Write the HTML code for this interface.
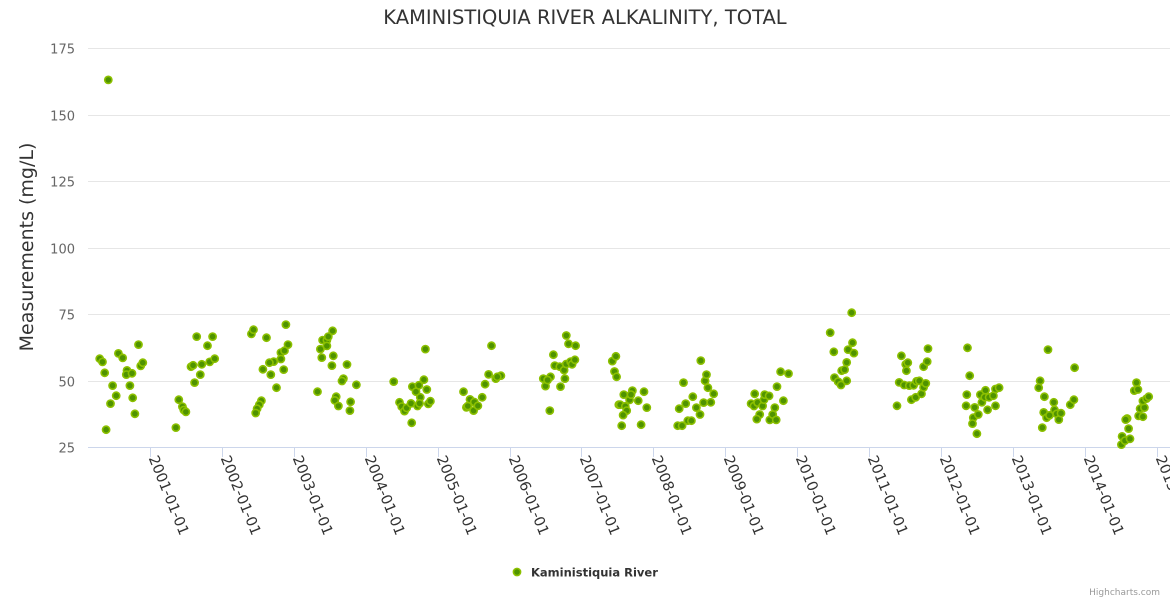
<!DOCTYPE html>
<html><head><meta charset="utf-8">
<style>
html,body{margin:0;padding:0;background:#fff;}
svg{display:block;font-family:"DejaVu Sans","Liberation Sans",sans-serif;}
</style></head>
<body>
<svg id="chart" width="1170" height="600" viewBox="0 0 1170 600" xmlns="http://www.w3.org/2000/svg">
<text x="585" y="24" text-anchor="middle" font-size="19.5" fill="#333">KAMINISTIQUIA RIVER ALKALINITY, TOTAL</text>
<text transform="translate(33,247) rotate(-90)" text-anchor="middle" font-size="19" fill="#333">Measurements (mg/L)</text>
<g id="grid"></g><g id="xaxis"></g><g id="points"></g>
<g>
<circle cx="517" cy="572" r="3.6" fill="#4f9300" stroke="#8cc000" stroke-width="1.6"/>
<text x="531" y="576.5" font-size="11.5" font-weight="bold" fill="#333">Kaministiquia River</text>
</g>
<text x="1160" y="595" text-anchor="end" font-size="9" fill="#999">Highcharts.com</text>
</svg>
<script>
const yTicks=[25,50,75,100,125,150,175];
const xTickYears=[2001,2002,2003,2004,2005,2006,2007,2008,2009,2010,2011,2012,2013,2014,2015];
const sampleYears=[2000.30,2000.34,2000.37,2000.48,2000.53,2000.45,2000.39,2000.56,2000.62,2000.68,2000.67,2000.75,2000.72,2000.76,2000.79,2000.84,2000.87,2000.90,2000.42,
2001.40,2001.45,2001.47,2001.50,2001.36,2001.62,2001.57,2001.60,2001.70,2001.72,2001.65,2001.80,2001.83,2001.87,2001.90,
2002.41,2002.44,2002.62,2002.89,2002.92,2002.82,2002.87,2002.82,2002.86,2002.72,2002.66,2002.57,2002.68,2002.76,2002.55,2002.52,2002.49,2002.47,
2003.33,2003.37,2003.39,2003.40,2003.46,2003.46,2003.48,2003.54,2003.55,2003.53,2003.74,2003.69,2003.67,2003.87,2003.59,2003.57,2003.62,2003.79,2003.78,
2004.39,2004.47,2004.50,2004.54,2004.57,2004.63,2004.64,2004.65,2004.70,2004.74,2004.76,2004.72,2004.75,2004.81,2004.85,2004.87,2004.90,2004.83,
2005.36,2005.45,2005.51,2005.40,2005.42,2005.50,2005.56,2005.62,2005.66,2005.71,2005.75,2005.81,2005.88,2005.83,
2006.47,2006.50,2006.57,2006.53,2006.56,2006.61,2006.63,2006.70,2006.71,2006.76,2006.77,2006.79,2006.82,2006.79,2006.85,2006.87,2006.91,2006.92,
2007.43,2007.48,2007.46,2007.49,2007.52,2007.54,2007.59,2007.61,2007.63,2007.58,2007.67,2007.71,2007.69,2007.79,2007.87,2007.91,2007.56,2007.83,
2008.34,2008.40,2008.48,2008.53,2008.36,2008.45,2008.55,2008.60,2008.65,2008.66,2008.70,2008.72,2008.74,2008.76,2008.80,2008.84,2008.42,
2009.36,2009.40,2009.41,2009.45,2009.48,2009.44,2009.52,2009.54,2009.55,2009.61,2009.62,2009.66,2009.69,2009.71,2009.72,2009.77,2009.81,2009.88,
2010.46,2010.51,2010.52,2010.57,2010.61,2010.62,2010.66,2010.69,2010.69,2010.71,2010.77,2010.79,2010.76,
2011.45,2011.51,2011.52,2011.54,2011.42,2011.49,2011.56,2011.62,2011.66,2011.39,2011.59,2011.65,2011.70,2011.73,2011.76,2011.79,2011.76,2011.81,2011.82,
2012.37,2012.40,2012.36,2012.35,2012.47,2012.45,2012.44,2012.50,2012.52,2012.55,2012.57,2012.62,2012.61,2012.67,2012.65,2012.73,2012.76,2012.81,2012.76,
2013.38,2013.36,2013.44,2013.49,2013.43,2013.47,2013.51,2013.57,2013.58,2013.61,2013.64,2013.67,2013.41,2013.80,2013.85,2013.86,
2014.52,2014.51,2014.56,2014.63,2014.61,2014.59,2014.57,2014.69,2014.72,2014.74,2014.77,2014.75,2014.81,2014.83,2014.81,2014.86,2014.89];
const sampleValues=[58.2,57.0,52.9,48.1,44.3,41.3,31.5,60.2,58.5,53.8,52.2,52.7,48.1,43.5,37.5,63.5,55.5,56.7,163,
42.8,40.2,38.9,38.2,32.3,49.2,55.2,55.7,52.2,56.1,66.5,63.1,57.0,66.5,58.2,
67.5,69.1,66.1,71.0,63.5,60.5,61.2,58.1,54.1,57.1,56.7,54.2,52.2,47.3,42.4,40.9,39.4,37.8,
45.8,61.8,58.6,65.2,65.2,63.0,66.5,68.7,59.3,55.6,56.0,50.7,49.8,48.4,43.9,42.5,40.4,42.0,38.7,
49.6,41.8,40.2,38.5,39.7,41.4,34.1,47.7,45.8,48.2,43.7,40.4,41.4,50.3,46.6,41.2,42.2,61.8,
45.8,42.9,41.9,39.9,40.4,38.7,40.5,43.7,48.6,52.3,63.1,50.7,51.8,51.4,
50.7,47.9,51.4,50.2,38.7,59.7,55.6,55.2,47.7,53.9,50.7,66.9,63.8,56.2,57.1,56.1,57.8,63.1,
57.3,59.1,53.4,51.4,40.9,40.9,44.7,40.3,38.7,37.0,42.7,46.2,44.7,42.4,45.8,39.8,33.0,33.4,
33.0,33.0,34.9,34.9,39.4,41.3,43.9,39.8,37.2,57.5,41.7,49.9,52.2,47.3,41.8,45.0,49.2,
41.3,40.4,45.0,41.7,37.2,35.5,40.4,42.8,44.7,44.2,35.2,37.2,39.8,35.2,47.7,53.3,42.4,52.6,
68.0,60.8,51.1,49.6,48.3,53.7,54.1,49.9,56.8,61.6,64.2,60.3,75.5,
59.3,56.1,53.7,56.7,49.3,48.3,48.1,48.2,49.7,40.5,42.8,43.7,49.9,45.0,47.4,48.9,55.2,57.1,62.0,
62.3,51.8,44.7,40.5,39.9,36.0,33.8,30.0,37.2,44.7,41.8,46.3,43.7,43.7,39.0,44.3,46.8,47.3,40.5,
49.9,47.3,43.9,61.6,38.0,36.0,36.9,41.8,39.0,37.5,35.3,37.7,32.3,40.9,42.8,54.8,
29.0,25.9,27.4,28.1,31.9,35.7,35.3,46.2,49.2,46.6,39.4,36.7,36.4,39.8,42.3,43.2,43.9];

const NS='http://www.w3.org/2000/svg';
const L=88,R=1170,T=48,B=447;
function yPx(v){return B-(v-25)/(175-25)*(B-T);}
function xPx(yr){return 150+(yr-2001)*71.9;}
const grid=document.getElementById('grid');
yTicks.forEach(function(t){
  const ln=document.createElementNS(NS,'line');
  
  
  ln.setAttribute('x1',L);ln.setAttribute('x2',R);
  const y=Math.round(yPx(t))+0.5;
  ln.setAttribute('y1',y);ln.setAttribute('y2',y);
  ln.setAttribute('stroke',t===25?'#ccd6eb':'#e6e6e6');
  grid.appendChild(ln);
  const tx=document.createElementNS(NS,'text');
  
  
  tx.setAttribute('x',75);tx.setAttribute('y',y+5);
  tx.setAttribute('text-anchor','end');tx.setAttribute('font-size','13');tx.setAttribute('fill','#666');
  tx.textContent=t;grid.appendChild(tx);
});
const xa=document.getElementById('xaxis');
xTickYears.forEach(function(yr){
  const x=Math.round(xPx(yr))+0.5;
  const tk=document.createElementNS(NS,'line');
  
  
  tk.setAttribute('x1',x);tk.setAttribute('x2',x);tk.setAttribute('y1',B);tk.setAttribute('y2',B+10);
  tk.setAttribute('stroke','#ccd6eb');xa.appendChild(tk);
  const tx=document.createElementNS(NS,'text');
  
  
  tx.setAttribute('transform','translate('+(x-2)+','+(B+11)+') rotate(68)');
  tx.setAttribute('font-size','14.5');tx.setAttribute('fill','#333');
  tx.textContent=yr+'-01-01';xa.appendChild(tx);
});
const pts=document.getElementById('points');
sampleYears.forEach(function(yr,i){
  const c=document.createElementNS(NS,'circle');
  
  
  c.setAttribute('cx',xPx(yr).toFixed(1));c.setAttribute('cy',yPx(sampleValues[i]).toFixed(1));
  c.setAttribute('r','3.6');c.setAttribute('fill','#4f9300');c.setAttribute('stroke','#8cc000');c.setAttribute('stroke-width','1.6');
  pts.appendChild(c);
});
</script>
</body></html>
